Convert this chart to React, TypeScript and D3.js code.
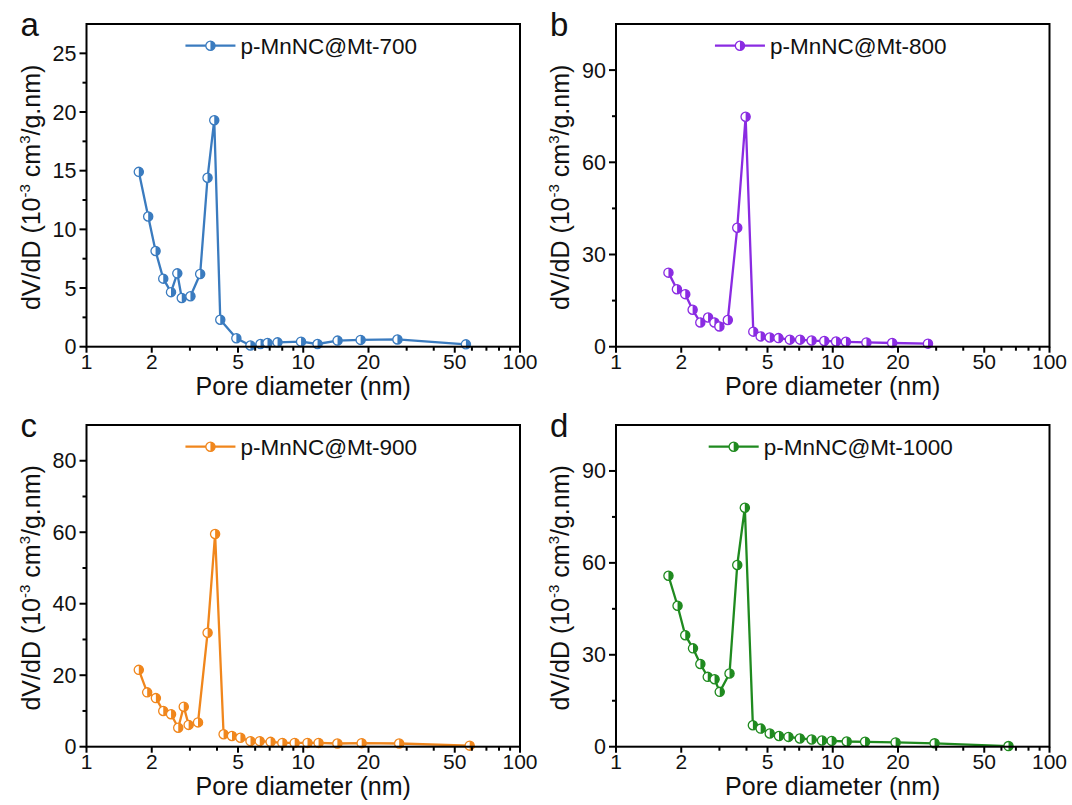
import React from "react";
import * as d3 from "d3";

// ---------- data ----------
const seriesNames = ["p-MnNC@Mt-700", "p-MnNC@Mt-800", "p-MnNC@Mt-900", "p-MnNC@Mt-1000"];
const panelLetters = ["a", "b", "c", "d"];
const seriesColors = ["#3a7bbf", "#8a2be2", "#f0861c", "#1f8a1f"];

const xTickLabels = [1, 2, 5, 10, 20, 50, 100];
const xMinorTicks = [3, 4, 6, 7, 8, 9, 30, 40, 60, 70, 80, 90];

const yMaxes = [27.5, 105, 90, 105];
const yMajorA = [0, 5, 10, 15, 20, 25];
const yMajorB = [0, 30, 60, 90];
const yMajorC = [0, 20, 40, 60, 80];
const yMajorD = [0, 30, 60, 90];

const poreA = [1.743, 1.926, 2.083, 2.26, 2.454, 2.624, 2.751, 3.017, 3.345, 3.618, 3.885, 4.142, 4.913, 5.706, 6.35, 6.84, 7.61, 9.77, 11.64, 14.4, 18.4, 27.2, 56.3];
const dvA = [14.9, 11.1, 8.15, 5.8, 4.65, 6.25, 4.15, 4.3, 6.2, 14.4, 19.3, 2.3, 0.72, 0.1, 0.23, 0.32, 0.37, 0.43, 0.23, 0.52, 0.58, 0.62, 0.2];

const poreB = [1.746, 1.91, 2.087, 2.257, 2.449, 2.66, 2.845, 3.0, 3.28, 3.626, 3.963, 4.3, 4.65, 5.12, 5.62, 6.34, 7.07, 7.99, 9.14, 10.36, 11.5, 14.3, 18.8, 27.5];
const dvB = [24.1, 18.7, 17.1, 12.0, 7.9, 9.5, 7.9, 6.6, 8.7, 38.7, 74.8, 4.9, 3.35, 3.0, 2.8, 2.3, 2.3, 2.0, 1.85, 1.7, 1.6, 1.4, 1.2, 1.0];

const poreC = [1.743, 1.905, 2.09, 2.26, 2.455, 2.65, 2.81, 2.96, 3.27, 3.62, 3.92, 4.29, 4.69, 5.13, 5.71, 6.3, 7.07, 8.01, 9.13, 10.46, 11.77, 14.37, 18.6, 27.7, 58.6];
const dvC = [21.5, 15.2, 13.6, 10.0, 9.1, 5.3, 11.2, 6.1, 6.8, 31.9, 59.5, 3.5, 3.0, 2.5, 1.55, 1.55, 1.35, 1.07, 1.07, 1.07, 1.07, 0.9, 1.0, 0.9, 0.3];

const poreD = [1.746, 1.923, 2.087, 2.266, 2.45, 2.65, 2.85, 3.01, 3.34, 3.626, 3.93, 4.28, 4.65, 5.12, 5.65, 6.25, 7.05, 7.99, 8.92, 9.89, 11.6, 14.1, 19.5, 29.5, 64.7];
const dvD = [55.8, 46.0, 36.4, 32.1, 27.0, 22.8, 22.0, 17.9, 23.9, 59.3, 78.0, 7.0, 5.9, 4.3, 3.5, 3.2, 2.7, 2.35, 2.0, 1.9, 1.7, 1.6, 1.4, 1.1, 0.2];

const poreSets = [poreA, poreB, poreC, poreD];
const dvSets = [dvA, dvB, dvC, dvD];
const yMajorSets = [yMajorA, yMajorB, yMajorC, yMajorD];

// ---------- layout ----------
const W = 1072;
const H = 805;
const FONT = "'Liberation Sans', Arial, Helvetica, sans-serif";
const frames = [
  { left: 86.5, top: 24, right: 520, bottom: 346.7 },
  { left: 616, top: 24, right: 1049.5, bottom: 346.7 },
  { left: 86.5, top: 425, right: 520, bottom: 746.7 },
  { left: 616, top: 425, right: 1049.5, bottom: 746.7 },
];

// approximate Arial advance widths (em) for legend centering
const charW: Record<string, number> = {
  p: 0.556, "-": 0.333, M: 0.833, n: 0.556, N: 0.722, C: 0.722, "@": 1.015, t: 0.278,
  "0": 0.556, "1": 0.556, "7": 0.556, "8": 0.556, "9": 0.556,
};
function textWidth(s: string, size: number) {
  let w = 0;
  for (const ch of s) w += charW[ch] ?? 0.556;
  return w * size;
}

function Marker({ cx, cy, r, color }: { cx: number; cy: number; r: number; color: string }) {
  return (
    <g transform={`translate(${cx},${cy})`}>
      <circle r={r} fill="#fff" stroke={color} strokeWidth={1.3} />
      <path d={`M0,${-r} A${r},${r} 0 0 1 0,${r} Z`} fill={color} />
    </g>
  );
}

function Panel({ i }: { i: number }) {
  const f = frames[i];
  const color = seriesColors[i];
  const x = d3.scaleLog().domain([1, 100]).range([f.left, f.right]);
  const y = d3.scaleLinear().domain([0, yMaxes[i]]).range([f.bottom, f.top]);
  const majors = yMajorSets[i];
  const step = majors[1] - majors[0];
  const minors: number[] = [];
  for (let v = step / 2; v < yMaxes[i] - 0.01; v += step) minors.push(v);
  const pts = poreSets[i].map((p, k) => [p, dvSets[i][k]] as [number, number]);
  const line = d3
    .line<[number, number]>()
    .x((d) => x(d[0]))
    .y((d) => y(d[1]));
  const cxPlot = (f.left + f.right) / 2;
  const cyPlot = (f.top + f.bottom) / 2;

  // legend
  const legFont = 22.5;
  const lineLen = 50;
  const gap = 5;
  const textW = textWidth(seriesNames[i], legFont);
  const legW = lineLen + gap + textW;
  const legX0 = cxPlot - 2 - legW / 2;
  const legY = f.top + 21.7;
  const tickFont = 21;

  return (
    <g fontFamily={FONT}>
      {/* panel letter */}
      <text x={f.left - 66} y={f.top + 12} fontSize={33} fill="#111">
        {panelLetters[i]}
      </text>
      {/* data line */}
      <path d={line(pts) || ""} fill="none" stroke={color} strokeWidth={2.3} strokeLinejoin="round" />
      {pts.map((d, k) => (
        <Marker key={k} cx={x(d[0])} cy={y(d[1])} r={4.6} color={color} />
      ))}
      {/* frame */}
      <rect
        x={f.left}
        y={f.top}
        width={f.right - f.left}
        height={f.bottom - f.top}
        fill="none"
        stroke="#000"
        strokeWidth={2}
      />
      {/* y ticks */}
      {majors.map((v) => (
        <g key={"ym" + v}>
          <line x1={f.left - 7} x2={f.left} y1={y(v)} y2={y(v)} stroke="#000" strokeWidth={2} />
          <text x={f.left - 10} y={y(v)} dy="0.35em" textAnchor="end" fontSize={tickFont + 0.5} fill="#111">
            {v}
          </text>
        </g>
      ))}
      {minors.map((v) => (
        <line key={"yn" + v} x1={f.left - 4} x2={f.left} y1={y(v)} y2={y(v)} stroke="#000" strokeWidth={2} />
      ))}
      {/* x ticks */}
      {xTickLabels.map((v) => (
        <g key={"xm" + v}>
          <line x1={x(v)} x2={x(v)} y1={f.bottom} y2={f.bottom + 6} stroke="#000" strokeWidth={2} />
          <text x={x(v)} y={f.bottom + 22.5} textAnchor="middle" fontSize={tickFont} fill="#111">
            {v}
          </text>
        </g>
      ))}
      {xMinorTicks.map((v) => (
        <line key={"xn" + v} x1={x(v)} x2={x(v)} y1={f.bottom} y2={f.bottom + 4} stroke="#000" strokeWidth={2} />
      ))}
      {/* axis titles */}
      <text x={cxPlot} y={f.bottom + 48} textAnchor="middle" fontSize={25} fill="#111">
        Pore diameter (nm)
      </text>
      <text
        transform={`translate(${f.left - 47},${cyPlot + 2}) rotate(-90)`}
        textAnchor="middle"
        fontSize={25}
        fill="#111"
      >
        dV/dD (10
        <tspan dy={-10} fontSize={15}>
          -3
        </tspan>
        <tspan dy={10}> cm</tspan>
        <tspan dy={-10} fontSize={15}>
          3
        </tspan>
        <tspan dy={10}>/g.nm)</tspan>
      </text>
      {/* legend */}
      <line x1={legX0} x2={legX0 + lineLen} y1={legY} y2={legY} stroke={color} strokeWidth={2.3} />
      <Marker cx={legX0 + lineLen / 2} cy={legY} r={4.6} color={color} />
      <text x={legX0 + lineLen + gap} y={legY} dy="0.35em" fontSize={legFont} fill="#111">
        {seriesNames[i]}
      </text>
    </g>
  );
}

export default function App() {
  return (
    <svg
      width={W}
      height={H}
      viewBox={`0 0 ${W} ${H}`}
      style={{ position: "absolute", left: 0, top: 0, background: "#fff" }}
    >
      <rect width={W} height={H} fill="#fff" />
      {[0, 1, 2, 3].map((i) => (
        <Panel key={i} i={i} />
      ))}
    </svg>
  );
}
